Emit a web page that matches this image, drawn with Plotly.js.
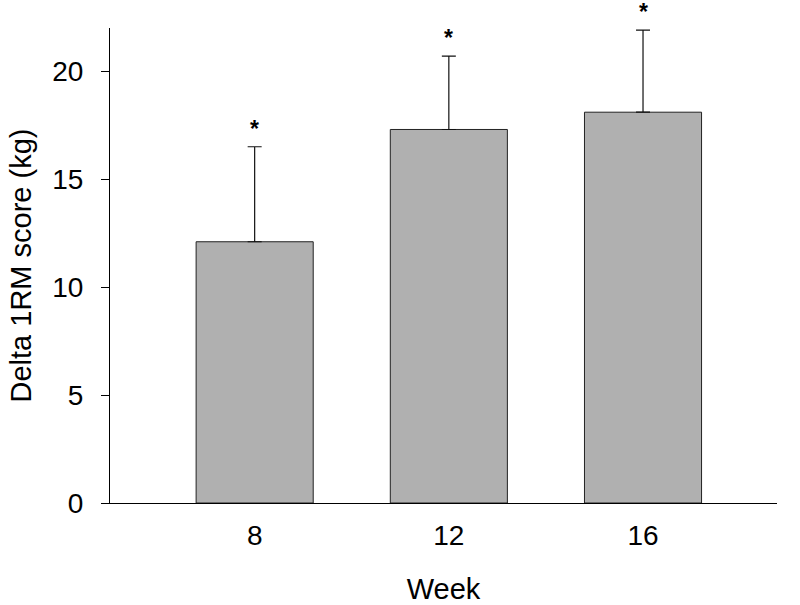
<!DOCTYPE html>
<html>
<head>
<meta charset="utf-8">
<script src="https://cdn.plot.ly/plotly-3.0.1.min.js"></script>
<style>html,body{margin:0;padding:0;background:#fff;}#chart{width:800px;height:605px;}</style>
</head>
<body>
<div id="chart"></div>
<script>
const weeks = ['8', '12', '16'];
const deltaMean = [12.1, 17.3, 18.1];
const upperError = [4.4, 3.4, 3.8];
const significance = ['*', '*', '*'];

const font = 'Arial, Liberation Sans, sans-serif';

const trace = {
  type: 'bar',
  x: weeks,
  y: deltaMean,
  width: 0.603,
  marker: { color: '#b0b0b0', line: { color: '#222', width: 1 } },
  error_y: {
    type: 'data', symmetric: false,
    array: upperError,
    arrayminus: weeks.map(() => 0),
    color: '#111', thickness: 1.2, width: 7
  },
  hoverinfo: 'skip'
};

const annotations = weeks.map((w, i) => ({
  x: i, y: deltaMean[i] + upperError[i],
  xref: 'x', yref: 'y',
  text: '<b>' + significance[i] + '</b>', showarrow: false,
  yanchor: 'bottom', yshift: 3,
  font: { family: font, size: 23, color: '#000' }
}));

const layout = {
  width: 800, height: 605,
  margin: { l: 110, r: 23, t: 28, b: 102 },
  paper_bgcolor: '#fff', plot_bgcolor: '#fff',
  showlegend: false,
  font: { family: font, color: '#000' },
  xaxis: {
    type: 'category',
    range: [-0.745, 2.69],
    showgrid: false, zeroline: false,
    showline: true, linecolor: '#000', linewidth: 1,
    ticks: '', tickfont: { size: 28, family: font },
    ticklabelstandoff: 7,
    title: { text: 'Week', font: { size: 29, family: font }, standoff: 29 },
    fixedrange: true
  },
  yaxis: {
    range: [0, 22],
    tickvals: [0, 5, 10, 15, 20],
    showgrid: false, zeroline: false,
    showline: true, linecolor: '#000', linewidth: 1,
    ticks: 'outside', ticklen: 8, tickcolor: '#000',
    tickfont: { size: 28, family: font },
    ticklabelstandoff: 12,
    title: { text: 'Delta 1RM score (kg)', font: { size: 29, family: font }, standoff: 12 },
    fixedrange: true
  },
  annotations: annotations
};

Plotly.newPlot('chart', [trace], layout, { staticPlot: true, displayModeBar: false });
</script>
</body>
</html>
